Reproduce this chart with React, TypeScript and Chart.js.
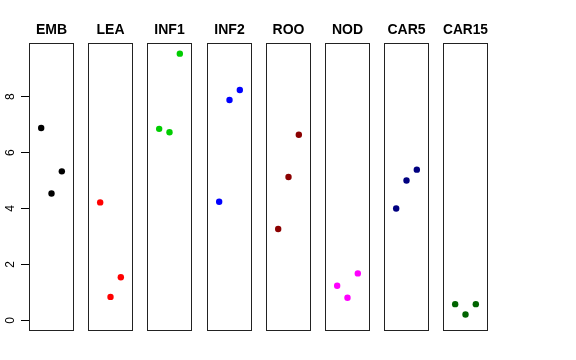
import React, { useEffect, useRef } from "react";
import { Chart, registerables } from "chart.js";

Chart.register(...registerables);

// ---- data ----
const groups = ["EMB", "LEA", "INF1", "INF2", "ROO", "NOD", "CAR5", "CAR15"];
const groupColors = ["#000000", "#FF0000", "#00CD00", "#0000FF", "#8B0000", "#FF00FF", "#000080", "#006400"];
const EMB = [6.88, 4.54, 5.33];
const LEA = [4.22, 0.84, 1.54];
const INF1 = [6.85, 6.73, 9.54];
const INF2 = [4.24, 7.88, 8.24];
const ROO = [3.27, 5.13, 6.64];
const NOD = [1.24, 0.81, 1.68];
const CAR5 = [4.0, 5.0, 5.39];
const CAR15 = [0.58, 0.21, 0.58];
const groupValues = [EMB, LEA, INF1, INF2, ROO, NOD, CAR5, CAR15];
const replicates = [1, 2, 3];
const yTicks = [0, 2, 4, 6, 8];
const yMin = -0.38;
const yMax = 9.92;
const xMin = -0.18;
const xMax = 4.18;

const FONT = "'Liberation Sans', Arial, Helvetica, sans-serif";

const boxPlugin = {
  id: "panelBox",
  afterDraw(chart: any) {
    const { ctx, chartArea: a } = chart;
    ctx.save();
    ctx.strokeStyle = "#222";
    ctx.lineWidth = 1;
    const l = Math.round(a.left) + 0.5;
    const t = Math.round(a.top) + 0.5;
    const w = Math.round(a.right - a.left) - 1;
    const h = Math.round(a.bottom - a.top) - 1;
    ctx.strokeRect(l, t, w, h);
    ctx.restore();
  },
};

const BOX_W = 45;
const PAD = 5;
const AXIS_W = 29;

function Panel({ idx }: { idx: number }) {
  const ref = useRef<HTMLCanvasElement>(null);
  const boxLeft = Math.round(29 + idx * 59.2);
  const first = idx === 0;
  const canvasLeft = first ? 0 : boxLeft - PAD;
  const canvasW = first ? AXIS_W + BOX_W + PAD : BOX_W + 2 * PAD;

  useEffect(() => {
    if (!ref.current) return;
    const vals = groupValues[idx];
    const chart = new Chart(ref.current, {
      type: "scatter",
      data: {
        datasets: [
          {
            data: replicates.map((r, i) => ({ x: r, y: vals[i] })),
            backgroundColor: groupColors[idx],
            borderColor: groupColors[idx],
            pointRadius: 3.2,
            pointBorderWidth: 0,
          },
        ],
      },
      options: {
        responsive: false,
        animation: false,
        devicePixelRatio: 1,
        layout: { padding: { left: first ? 0 : PAD, right: PAD, top: 0, bottom: 29 } },
        plugins: {
          legend: { display: false },
          tooltip: { enabled: false },
          title: {
            display: true,
            text: groups[idx],
            fullSize: false,
            color: "#000",
            font: { family: FONT, size: 14, weight: "bold", lineHeight: 1.2 },
            padding: { top: 21.5, bottom: 4.7 },
          },
        },
        scales: {
          x: { type: "linear", min: xMin, max: xMax, display: false },
          y: {
            type: "linear",
            min: yMin,
            max: yMax,
            display: first,
            position: "left",
            afterFit: (s: any) => {
              s.width = first ? AXIS_W : 0;
            },
            afterBuildTicks: (s: any) => {
              s.ticks = yTicks.map((v) => ({ value: v }));
            },
            ticks: {
              minRotation: 90,
              maxRotation: 90,
              crossAlign: "center",
              padding: 7,
              color: "#000",
              font: { family: FONT, size: 12 },
            },
            grid: { drawOnChartArea: false, drawTicks: true, tickLength: 8, color: "#000" },
            border: { display: false },
          },
        },
      },
      plugins: [boxPlugin],
    } as any);
    return () => chart.destroy();
  }, [idx]);

  return (
    <canvas
      ref={ref}
      width={canvasW}
      height={360}
      style={{ position: "absolute", left: canvasLeft, top: 0, width: canvasW, height: 360 }}
    />
  );
}

export default function App() {
  return (
    <div style={{ position: "fixed", left: 0, top: 0, width: 576, height: 360, background: "#fff" }}>
      {groups.map((g, i) => (
        <Panel key={g} idx={i} />
      ))}
    </div>
  );
}
